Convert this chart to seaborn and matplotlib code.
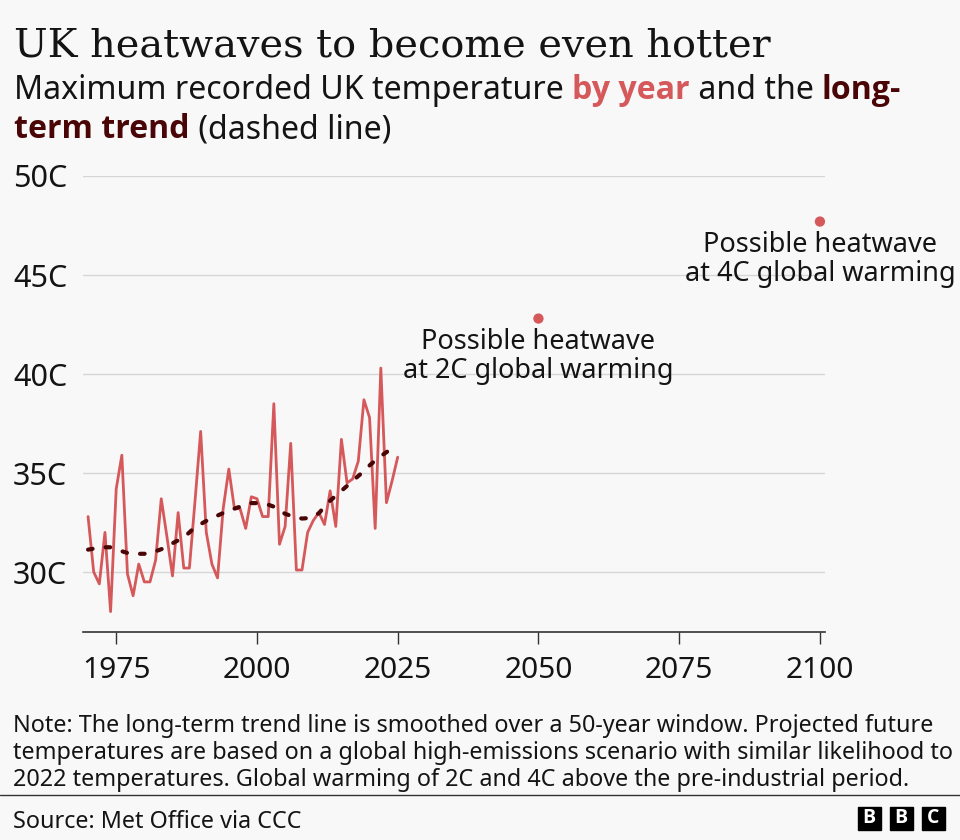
import pandas as pd
import seaborn as sns
import matplotlib.pyplot as plt
from matplotlib.patches import Rectangle
from matplotlib.lines import Line2D

# --- data ---
years = list(range(1970, 2026))
max_temp = [
    32.8, 30.0, 29.4, 32.0, 28.0, 34.2, 35.9, 29.9, 28.8, 30.4,
    29.5, 29.5, 30.6, 33.7, 31.8, 29.8, 33.0, 30.2, 30.2, 33.6,
    37.1, 32.0, 30.4, 29.7, 33.2, 35.2, 33.2, 33.2, 32.2, 33.8,
    33.7, 32.8, 32.8, 38.5, 31.4, 32.3, 36.5, 30.1, 30.1, 32.0,
    32.6, 33.0, 32.4, 34.1, 32.3, 36.7, 34.5, 34.7, 35.6, 38.7,
    37.8, 32.2, 40.3, 33.5, 34.6, 35.8,
]
trend = [
    31.13, 31.18, 31.22, 31.25, 31.25, 31.15, 31.05, 30.96, 30.94, 30.92,
    30.92, 30.97, 31.05, 31.15, 31.30, 31.45, 31.60, 31.75, 32.00, 32.27,
    32.42, 32.58, 32.72, 32.85, 32.98, 33.08, 33.20, 33.30, 33.42, 33.48,
    33.48, 33.45, 33.40, 33.30, 33.10, 32.94, 32.84, 32.75, 32.70, 32.72,
    32.80, 32.97, 33.30, 33.60, 33.85, 34.10, 34.35, 34.60, 34.85, 35.10,
    35.38, 35.63, 35.85, 36.05, 36.27, 36.45,
]
future_years = [2050, 2100]
future_temp = [42.8, 47.7]
future_labels = ["Possible heatwave\nat 2C global warming",
                 "Possible heatwave\nat 4C global warming"]
y_ticks = [30, 35, 40, 45, 50]
y_labels = ["30C", "35C", "40C", "45C", "50C"]
x_ticks = [1975, 2000, 2025, 2050, 2075, 2100]

RED = "#d5585b"
MAROON = "#4a0606"
BG = "#f8f8f8"
GRID = "#d6d6d6"
INK = "#141414"
BOLD = ["Open Sans", "DejaVu Sans"]

sns.set_theme(style="white")
plt.rcParams["font.family"] = ["Noto Sans", "DejaVu Sans"]

W, H = 960, 840


def fx(x):
    return x / W


def fy(y):
    return 1 - y / H


fig = plt.figure(figsize=(9.6, 8.4), dpi=100, facecolor=BG)
ax = fig.add_axes([fx(83), fy(632), (825 - 83) / W, (632 - 176) / H])
ax.set_facecolor(BG)

hist = pd.DataFrame({"year": years, "temp": max_temp, "trend": trend})
sns.lineplot(data=hist, x="year", y="temp", color=RED, lw=2.0, ax=ax)
sns.lineplot(data=hist, x="year", y="trend", color=MAROON, lw=3.0, ax=ax)
trend_line = ax.lines[-1]
trend_line.set_linestyle((0, (1.1, 3.15)))
trend_line.set_dash_capstyle("round")
sns.scatterplot(x=future_years, y=future_temp, color=RED, s=55,
                edgecolor="none", ax=ax, zorder=5)

# multi-line text with va="baseline" sits on its last line
for yr, t, lab in zip(future_years, future_temp, future_labels):
    ax.annotate(lab, xy=(yr, t), xytext=(0, -43), textcoords="offset points",
                ha="center", va="baseline", fontsize=19.5, color=INK,
                linespacing=1.05, annotation_clip=False)

ax.set_xlim(1969.1, 2100.9)
ax.set_ylim(26.97, 50)
ax.set_xticks(x_ticks)
ax.set_yticks(y_ticks)
ax.set_yticklabels(y_labels)
ax.set_xlabel("")
ax.set_ylabel("")

sns.despine(ax=ax, left=True)
ax.spines["bottom"].set_color("#333333")
ax.spines["bottom"].set_linewidth(1.2)
ax.yaxis.grid(True, color=GRID, lw=1)
ax.xaxis.grid(False)
ax.set_axisbelow(True)

ax.tick_params(axis="x", length=8.6, width=1, color="#333333", bottom=True,
               labelsize=21.5, labelcolor=INK, pad=9)
ax.tick_params(axis="y", length=0, labelsize=22, labelcolor=INK, pad=50.4)
for lab in ax.get_yticklabels():
    lab.set_horizontalalignment("left")

# --- title, subtitle ---
fig.text(fx(14), fy(56.7), "UK heatwaves to become even hotter",
         family="DejaVu Serif", fontsize=28.7, color=INK, va="baseline")

renderer = fig.canvas.get_renderer()


def run_text(pieces, x, y):
    for txt, color, bold in pieces:
        kw = dict(family=BOLD, fontweight="bold") if bold else {}
        t = fig.text(fx(x), fy(y), txt, fontsize=23.1, color=color,
                     va="baseline", **kw)
        x += t.get_window_extent(renderer).width


run_text([("Maximum recorded UK temperature ", INK, False),
          ("by year", RED, True),
          (" and the ", INK, False),
          ("long-", MAROON, True)], 14, 99.3)
run_text([("term trend", MAROON, True),
          (" (dashed line)", INK, False)], 14, 138.3)

# --- footer ---
note_lines = [
    "Note: The long-term trend line is smoothed over a 50-year window. Projected future",
    "temperatures are based on a global high-emissions scenario with similar likelihood to",
    "2022 temperatures. Global warming of 2C and 4C above the pre-industrial period.",
]
for i, line in enumerate(note_lines):
    fig.text(fx(13), fy(732 + 27 * i), line, fontsize=16.8, color=INK,
             va="baseline")
fig.add_artist(Line2D([0, 1], [fy(795), fy(795)], color="#333333", lw=1))
fig.text(fx(13), fy(828), "Source: Met Office via CCC", fontsize=16.8,
         color=INK, va="baseline")

for x0, letter in zip([858, 890, 922], "BBC"):
    fig.add_artist(Rectangle((fx(x0), fy(829.5)), 22.5 / W, 22.5 / H,
                             transform=fig.transFigure, color="black"))
    fig.text(fx(x0 + 11.25), fy(818.2), letter, color="white", fontsize=14,
             family=BOLD, fontweight="bold", ha="center", va="center")

fig.savefig("out.png", dpi=100, facecolor=BG)
